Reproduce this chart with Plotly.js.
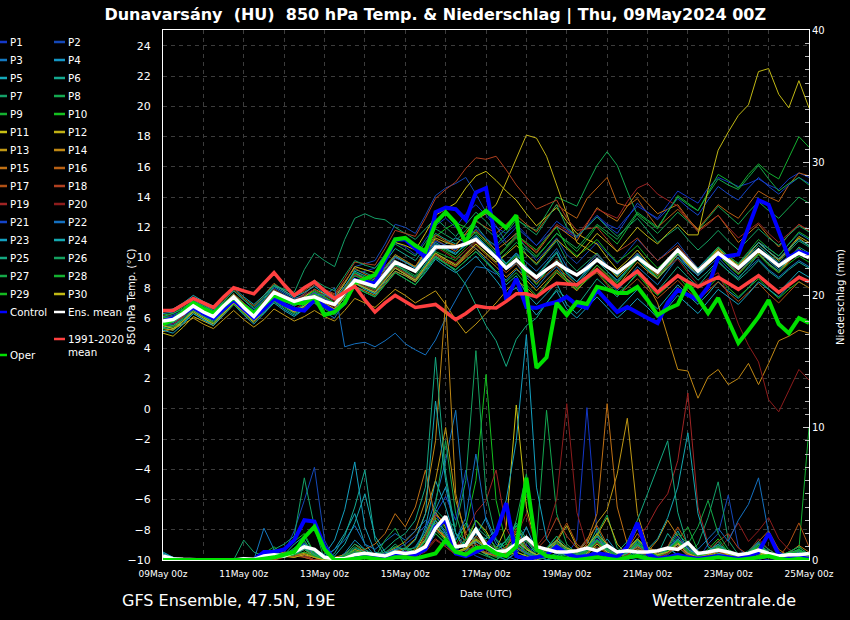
<!DOCTYPE html>
<html><head><meta charset="utf-8">
<script src="https://cdn.plot.ly/plotly-3.0.1.min.js"></script>
<style>html,body{margin:0;padding:0;background:#000;}#chart{width:850px;height:620px;}</style>
</head><body><div id="chart"></div>
<script>
// ---- tick / category labels ----
const memberNames = ['P1','P2','P3','P4','P5','P6','P7','P8','P9','P10','P11','P12','P13','P14','P15','P16','P17','P18','P19','P20','P21','P22','P23','P24','P25','P26','P27','P28','P29','P30'];
const memberColors = ['#1438c8','#1448b8','#1478c0','#1496c4','#14a8b8','#14a890','#14a068','#14a850','#14b030','#14c020','#c8c014','#c0b014','#c09814','#c08814','#c07014','#b86014','#b05014','#b04020','#a02424','#8c1c1c','#1444c8','#1470c0','#14a0c0','#14a8b0','#14a880','#14a060','#14a848','#14b030','#14b820','#c0b814'];

// ---- 850 hPa temperature (°C), 6-hourly from 09May 00z ----
const t01=[5.5,5.6,6.0,6.6,6.2,5.8,6.6,7.3,6.6,6.0,6.5,7.1,6.8,6.5,6.9,7.6,7.3,7.0,7.8,8.8,9.1,9.3,10.2,11.0,10.7,10.2,11.2,12.1,12.6,12.0,12.9,13.5,12.8,12.0,11.6,12.2,11.5,10.8,11.4,12.0,11.7,11.3,12.1,12.8,12.2,11.9,12.7,13.4,13.0,12.6,13.5,14.4,14.0,13.6,14.6,15.3,15.0,14.7,14.9,15.2,14.8,14.5,15.2,15.6,15.3];
const t02=[6.0,6.2,6.5,7.0,6.7,6.3,6.9,7.6,7.0,6.5,7.2,8.0,7.6,7.2,7.6,8.2,7.8,7.4,8.3,9.4,9.6,9.8,10.9,12.2,12.0,11.6,12.8,14.1,14.6,14.9,15.3,14.2,13.0,12.1,11.0,11.6,10.6,9.8,10.5,11.3,10.2,9.6,10.3,11.0,10.3,9.6,10.4,11.2,10.5,9.8,10.4,11.0,10.1,9.3,9.9,10.6,10.0,9.4,10.1,10.8,10.2,9.6,10.1,10.5,10.1];
const t03=[5.9,5.8,6.2,6.9,6.5,6.0,6.7,7.5,6.8,6.2,6.8,7.5,7.1,6.8,7.2,7.0,6.4,6.0,7.1,8.3,8.0,7.6,8.7,9.8,9.5,9.0,9.9,10.9,10.6,10.3,10.8,11.4,10.8,10.1,9.2,9.6,8.7,8.0,8.8,9.4,8.6,8.1,8.7,9.3,8.5,7.8,8.6,9.4,8.8,8.2,9.1,10.0,9.4,8.8,9.6,10.3,9.9,9.5,10.2,11.0,10.6,10.1,10.9,11.6,11.2];
const t04=[6.3,6.4,6.8,7.3,6.9,6.5,7.1,7.8,7.2,6.6,7.3,8.1,7.7,7.3,7.5,7.9,7.5,7.2,8.1,9.0,8.6,8.2,8.9,9.6,9.1,8.6,9.6,10.5,10.9,11.3,11.0,10.6,9.8,9.1,8.5,9.2,8.8,8.4,9.1,9.8,9.0,8.4,9.1,9.8,9.1,8.5,9.2,9.9,9.2,8.6,9.4,10.2,9.5,8.9,9.6,10.3,9.6,9.0,9.7,10.4,9.8,9.2,9.8,10.4,10.0];
const t05=[5.4,5.2,5.7,6.3,5.9,5.6,6.3,7.0,6.5,5.9,6.3,7.0,6.5,6.1,6.6,7.2,6.8,6.5,7.4,8.3,7.9,7.6,8.4,9.1,8.8,8.4,9.2,10.0,9.6,9.2,9.8,10.4,9.7,9.0,8.2,8.8,7.6,6.9,7.6,8.3,6.9,6.3,7.0,7.8,7.1,6.5,7.2,7.9,7.2,6.6,7.4,8.2,7.5,6.9,7.6,8.4,7.8,7.3,8.0,8.8,8.2,7.7,8.4,9.1,8.7];
const t06=[6.1,6.0,6.6,7.2,6.8,6.4,7.0,7.6,6.9,6.3,7.0,7.8,7.4,7.0,7.3,7.7,7.2,6.8,7.9,9.2,9.0,8.7,9.7,10.6,10.2,9.8,10.7,11.6,11.2,10.9,11.5,12.1,11.3,10.4,9.6,10.3,9.4,8.7,9.5,10.3,8.9,8.2,9.0,9.8,9.1,8.4,9.2,10.0,9.3,8.6,9.3,10.0,9.2,8.5,9.1,9.8,9.1,8.5,9.1,9.8,9.1,8.6,9.2,9.7,9.3];
const t07=[5.7,5.8,6.3,6.9,6.6,6.2,6.8,7.5,6.9,6.4,7.2,8.1,7.9,7.7,9.2,10.3,9.8,9.4,11.2,12.6,12.9,12.6,12.5,12.0,11.6,11.2,11.9,12.6,12.0,11.4,12.2,13.0,12.4,11.6,10.8,11.4,10.2,9.5,10.3,11.1,9.8,9.1,9.7,10.3,9.5,8.8,9.5,10.2,9.5,8.9,9.6,10.3,9.6,9.0,9.8,10.6,10.0,9.4,10.1,10.8,10.2,9.7,10.4,11.1,10.7];
const t08=[5.9,6.1,6.4,6.9,6.5,6.2,6.7,7.3,6.7,6.2,6.9,7.6,7.2,6.9,7.1,7.5,7.1,6.8,7.6,8.5,8.2,7.9,8.7,9.5,9.2,8.8,9.8,10.8,10.5,10.2,11.0,11.7,11.2,10.8,11.6,12.5,12.1,11.8,12.9,14.0,13.7,13.4,14.8,16.1,17.0,16.1,14.4,12.8,12.2,11.6,12.3,13.0,12.4,11.8,12.6,13.4,12.8,12.2,13.0,13.7,13.1,12.6,13.3,14.0,13.6];
const t09=[5.6,5.5,6.0,6.6,6.3,5.9,6.5,7.1,6.4,5.8,6.5,7.3,6.9,6.5,6.9,7.3,6.9,6.6,7.5,8.4,8.1,7.8,8.6,9.4,9.0,8.6,9.5,10.4,10.1,9.8,10.5,11.1,10.5,9.9,10.6,11.3,10.7,10.1,10.8,11.6,11.0,10.4,11.2,12.1,11.5,10.9,11.9,12.9,12.4,11.9,13.0,14.1,13.6,13.1,14.3,15.5,15.1,14.6,15.5,16.2,15.6,15.2,16.6,18.0,17.3];
const t10=[6.2,6.3,6.7,7.1,6.7,6.4,7.0,7.6,7.0,6.4,7.1,7.9,7.5,7.1,7.4,7.8,7.4,7.0,8.0,9.0,8.7,8.4,9.3,10.2,9.8,9.4,10.4,11.4,11.9,12.3,12.0,11.6,11.0,10.3,9.5,10.1,9.0,8.2,9.1,9.9,8.5,7.9,8.5,9.1,8.3,7.6,8.2,8.9,8.1,7.5,8.1,8.8,8.0,7.4,8.0,8.7,8.0,7.4,8.0,8.6,7.9,7.3,7.9,8.4,8.0];
const t11=[5.3,5.2,5.8,6.5,6.1,5.7,6.4,7.2,6.6,6.0,6.8,7.6,7.3,7.0,7.4,7.9,7.6,7.3,8.3,9.4,9.2,9.0,10.0,11.0,10.8,10.5,11.6,12.8,13.2,13.6,14.6,15.4,15.7,15.1,14.4,13.8,12.9,12.1,12.7,13.3,12.4,11.6,11.2,10.9,10.0,9.2,9.8,10.5,9.7,9.0,9.6,10.3,9.5,8.8,9.5,10.2,9.5,8.9,9.6,10.3,9.6,9.0,9.8,10.6,10.1];
const t12=[5.0,4.8,5.4,6.1,5.8,5.5,6.2,6.9,6.3,5.7,6.4,7.2,6.8,6.4,6.8,7.4,7.0,6.6,7.6,8.6,8.3,8.0,9.0,10.0,9.7,9.4,10.3,11.3,11.0,10.8,11.6,12.5,12.9,13.5,15.0,16.6,18.1,17.9,16.7,14.8,12.9,11.0,10.6,10.2,9.4,8.7,9.3,10.0,9.4,8.8,9.5,10.2,9.6,9.0,9.8,10.5,10.0,9.5,10.2,11.0,10.4,9.9,10.6,11.4,11.0];
const t13=[5.1,5.3,5.6,6.0,5.6,5.3,5.9,6.5,5.9,5.4,5.9,6.6,6.2,5.8,6.1,6.5,6.1,5.8,6.5,7.3,7.0,6.7,7.3,7.9,7.5,7.0,7.4,7.8,6.9,5.9,5.0,5.6,6.3,7.0,7.8,8.5,8.0,7.4,8.2,9.0,8.4,7.8,8.6,9.3,8.7,8.1,8.9,9.7,9.1,8.6,9.4,10.2,9.6,9.0,9.8,10.6,10.0,9.4,10.2,11.0,10.4,9.8,10.5,11.3,10.8];
const t14=[5.5,5.4,5.9,6.5,6.1,5.7,6.3,7.0,6.4,5.8,6.4,7.2,6.8,6.4,6.7,7.1,6.7,6.3,7.2,8.1,7.8,7.5,8.3,9.1,8.8,8.4,9.3,10.2,9.8,9.4,10.0,10.6,10.0,9.4,8.7,9.3,8.5,7.8,8.5,9.2,8.6,8.0,8.8,9.5,8.8,8.2,8.7,9.1,8.2,7.0,4.8,2.6,2.5,0.7,2.1,2.6,1.6,2.0,3.0,1.6,3.0,4.5,4.8,5.2,5.0];
const t15=[5.8,5.7,6.1,6.8,6.4,6.1,6.8,7.5,6.9,6.3,7.0,7.7,7.3,6.9,7.2,7.7,7.3,6.9,7.9,8.9,8.6,8.3,9.2,10.1,9.7,9.3,10.2,11.2,10.8,10.4,11.1,11.8,11.1,10.5,11.0,11.6,10.9,10.3,11.2,12.1,11.6,11.1,12.2,13.3,12.8,12.4,13.4,14.3,13.6,12.9,13.2,13.5,12.6,11.8,12.3,12.8,11.9,11.0,11.6,12.2,11.4,10.7,11.5,12.2,11.7];
const t16=[6.4,6.6,6.9,7.3,6.9,6.6,7.2,7.9,7.3,6.8,7.5,8.3,7.8,7.4,7.8,8.3,7.9,7.5,8.4,9.3,8.9,8.6,9.4,10.2,9.8,9.4,10.5,11.5,11.1,10.8,11.6,12.4,12.0,11.6,12.2,12.8,12.2,11.7,12.6,13.5,13.0,12.6,13.9,14.6,15.3,13.6,13.4,13.9,12.9,12.0,12.6,13.2,12.5,11.9,12.7,13.5,13.0,12.6,13.5,14.4,14.0,13.7,14.8,15.6,15.4];
const t17=[6.0,5.9,6.3,6.9,6.5,6.2,6.9,7.6,7.0,6.4,7.0,7.8,7.4,7.0,7.3,7.6,7.2,6.8,7.6,8.4,8.0,7.7,8.5,9.3,8.9,8.5,9.3,10.1,9.7,9.4,10.1,10.8,10.2,9.6,9.0,9.6,8.9,8.3,8.9,9.5,8.8,8.2,8.6,9.0,8.2,7.5,8.0,8.6,7.9,7.3,7.9,8.5,7.8,7.2,7.8,8.4,7.7,7.1,7.7,8.3,7.6,7.0,7.7,8.4,8.0];
const t18=[5.7,5.9,6.3,6.8,6.4,6.0,6.6,7.3,6.7,6.2,6.9,7.7,7.4,7.1,7.6,8.2,7.9,7.6,8.6,9.7,9.6,9.5,10.6,11.8,11.6,11.4,12.6,13.9,14.5,15.0,15.9,16.6,16.5,16.7,15.8,14.8,14.0,13.2,13.5,13.8,12.6,11.8,11.9,12.0,11.2,10.4,10.8,11.3,10.5,9.8,10.3,10.8,10.0,9.3,9.8,10.4,9.7,9.0,9.6,10.2,9.6,9.0,9.7,10.4,10.0];
const t19=[5.8,5.6,6.1,6.7,6.3,5.9,6.6,7.4,6.8,6.2,6.8,7.5,7.0,6.6,7.0,7.5,7.1,6.7,7.6,8.5,8.1,7.8,8.6,9.4,9.0,8.6,9.4,10.2,9.9,9.6,10.3,11.0,10.5,10.0,10.7,11.4,10.9,10.4,11.3,12.2,11.8,11.4,12.3,13.2,12.9,12.6,13.7,14.6,14.9,14.2,13.8,13.4,12.5,11.7,12.2,12.8,12.0,11.3,11.8,12.3,11.6,11.0,11.6,12.2,11.8];
const t20=[6.2,6.1,6.5,7.0,6.6,6.3,6.9,7.5,6.9,6.4,7.1,7.9,7.5,7.2,7.5,7.9,7.5,7.1,8.0,8.9,8.5,8.2,9.0,9.8,9.4,9.0,9.8,10.7,10.3,9.9,10.5,11.1,10.5,9.9,9.3,9.8,9.1,8.5,9.2,9.9,9.3,8.8,9.5,10.2,9.5,8.9,9.6,10.3,9.6,8.9,9.4,9.9,9.0,8.2,8.6,9.0,7.5,5.6,4.2,3.1,0.6,-0.2,1.2,2.6,1.9];
const t21=[5.6,5.7,6.2,6.8,6.3,5.9,6.6,7.3,6.6,6.1,6.8,7.6,7.2,6.8,7.2,7.7,7.3,6.9,7.8,8.8,8.5,8.2,9.1,10.0,9.7,9.3,10.2,11.1,10.8,10.5,11.2,11.9,11.3,10.7,11.3,12.0,11.4,10.8,11.6,12.4,11.9,11.4,12.0,12.7,12.1,11.6,12.6,13.6,13.0,12.5,13.2,13.9,13.3,12.8,13.8,14.7,14.2,13.8,14.6,15.3,14.7,14.2,14.8,15.3,14.9];
const t22=[5.9,5.7,6.2,6.7,6.3,6.0,6.5,7.1,6.5,5.9,6.5,7.2,6.8,6.3,6.8,7.6,7.5,8.0,4.1,4.3,4.4,4.1,4.5,5.0,4.3,3.9,3.56,4.55,6.0,7.2,8.4,9.4,9.3,8.9,9.6,10.3,9.7,9.1,9.8,10.6,9.4,8.8,9.5,10.2,9.5,8.9,9.6,10.3,9.6,9.0,9.6,10.2,9.4,8.8,9.4,10.0,9.3,8.7,9.3,9.9,9.2,8.7,9.3,9.8,9.4];
const t23=[5.2,5.0,5.6,6.3,5.9,5.5,6.2,6.9,6.2,5.6,6.3,7.1,6.6,6.2,6.6,7.1,6.7,6.3,7.2,8.1,7.7,7.4,8.2,9.0,8.6,8.2,9.0,9.9,9.4,9.0,9.5,10.1,9.3,8.5,7.6,8.0,7.0,6.2,7.0,7.8,6.6,6.0,6.7,7.4,6.7,6.0,6.6,7.3,6.7,6.0,6.7,7.5,6.9,6.3,7.1,7.9,7.4,6.9,7.6,8.4,7.9,7.4,8.1,8.8,8.4];
const t24=[6.5,6.6,7.0,7.5,7.1,6.8,7.4,8.0,7.4,6.9,7.5,8.2,7.8,7.4,7.7,8.1,7.6,7.2,8.1,9.1,8.8,8.5,9.3,10.1,9.7,9.3,10.1,11.0,10.6,10.2,10.9,11.5,10.8,10.2,9.6,10.2,9.4,8.8,9.6,10.4,9.0,8.4,9.2,10.0,9.4,8.8,9.5,10.2,9.6,9.1,9.8,10.5,9.9,9.3,10.0,10.7,10.1,9.6,10.3,11.0,10.4,9.9,10.6,11.2,10.8];
const t25=[5.4,5.5,5.9,6.5,6.1,5.8,6.4,7.1,6.5,6.0,6.6,7.3,6.9,6.5,6.8,7.3,6.9,6.5,7.4,8.3,8.0,7.7,8.5,9.3,8.9,8.5,9.3,10.1,9.6,9.1,8.2,6.8,5.5,4.5,2.8,4.6,5.5,6.0,7.0,7.9,7.3,6.8,7.7,8.6,8.0,7.4,8.2,9.0,8.4,7.8,8.6,9.4,8.7,8.1,8.9,9.7,9.1,8.6,9.4,10.2,9.6,9.1,9.9,10.7,10.3];
const t26=[6.1,6.3,6.6,7.1,6.8,6.5,7.1,7.8,7.2,6.7,7.4,8.2,7.9,7.6,8.0,8.5,8.1,7.8,8.8,9.8,9.5,9.3,10.1,10.9,10.5,10.1,11.0,11.9,11.5,11.1,11.8,12.5,11.9,11.3,11.9,12.6,12.0,11.5,12.5,13.5,12.0,11.4,12.0,12.7,12.0,11.4,12.0,12.6,11.8,11.0,11.5,12.0,11.2,10.5,11.1,11.8,11.1,10.5,11.2,11.9,11.3,10.8,11.5,12.1,11.7];
const t27=[5.8,5.8,6.2,6.8,6.4,6.0,6.7,7.4,6.8,6.2,6.9,7.6,7.2,6.8,7.1,7.6,7.2,6.8,7.7,8.6,8.2,7.9,8.7,9.5,9.1,8.7,9.5,10.3,9.9,9.5,10.2,10.9,10.3,9.7,10.3,11.0,10.5,10.0,10.8,11.6,11.1,10.6,11.4,12.2,11.7,11.2,12.1,13.0,12.5,12.0,13.0,14.0,13.5,13.1,14.2,15.2,14.8,14.5,15.3,16.1,15.2,14.4,14.9,15.3,14.8];
const t28=[5.3,5.4,5.8,6.4,6.0,5.7,6.3,6.9,6.3,5.8,6.4,7.1,6.7,6.3,6.6,7.0,6.6,6.2,7.1,8.0,7.7,7.4,8.2,9.0,8.6,8.2,9.1,10.0,9.6,9.2,9.8,10.4,9.7,9.1,8.4,9.0,8.2,7.5,8.3,9.1,8.5,7.9,8.7,9.5,8.9,8.3,9.1,9.9,9.3,8.7,9.5,10.3,9.7,9.1,9.9,10.7,10.1,9.6,10.4,11.2,10.6,10.1,10.9,11.7,11.3];
const t29=[6.0,6.1,6.5,7.0,6.6,6.3,6.9,7.5,6.9,6.3,7.0,7.7,7.3,6.9,7.3,7.8,7.4,7.0,7.9,8.8,8.5,8.2,9.0,9.8,9.4,9.0,9.9,10.8,10.4,10.0,10.7,11.3,10.6,10.0,10.7,11.5,11.0,10.5,11.3,12.0,10.7,10.1,10.6,11.2,10.4,9.7,10.2,10.8,10.0,9.3,9.9,10.5,9.7,9.0,9.6,10.2,9.5,8.9,9.6,10.2,9.5,9.0,9.6,10.1,9.7];
const t30=[5.5,5.3,5.8,6.4,6.0,5.6,6.3,7.0,6.4,5.8,6.5,7.2,6.8,6.4,6.8,7.3,6.9,6.5,7.4,8.3,8.0,7.7,8.5,9.3,8.9,8.5,9.4,10.3,9.9,9.5,10.2,10.9,10.3,9.7,10.2,10.8,10.2,9.6,10.4,11.2,10.6,10.0,10.8,11.6,11.0,10.4,11.2,12.0,11.4,10.9,11.6,12.2,11.5,11.5,14.5,17.1,18.3,19.4,20.1,22.3,22.5,20.8,19.9,21.7,19.9];
const ctrlT=[5.8,6.0,6.3,6.7,6.3,6.0,6.6,7.2,6.6,6.0,6.6,7.3,6.9,6.6,6.5,7.2,6.8,6.4,7.0,8.5,8.4,8.3,9.8,11.2,11.2,10.6,10.0,13.0,13.3,13.2,12.5,14.3,14.6,11.0,7.2,8.6,6.73,6.67,6.9,7.06,7.4,6.87,6.67,7.86,7.1,6.4,6.73,6.33,6.0,5.67,7.0,7.86,7.5,7.2,8.06,10.0,10.1,10.2,12.0,13.8,13.5,11.8,10.0,10.4,10.2];
const operT=[5.6,5.87,6.4,7.0,6.6,6.33,6.8,7.33,6.8,6.33,6.9,7.5,7.2,7.0,7.0,7.4,6.2,6.4,7.0,8.3,8.6,8.85,10.0,11.2,11.3,10.8,10.4,12.3,13.0,12.3,11.0,12.6,13.1,12.5,11.96,12.8,7.7,2.7,3.4,7.0,6.2,7.06,6.93,8.06,7.9,7.66,7.66,8.06,7.2,6.2,6.6,6.9,8.3,7.3,6.33,7.33,5.8,4.35,5.2,6.07,7.2,5.6,5.0,6.0,5.67];
const meanT=[5.8,5.9,6.3,6.8,6.4,6.1,6.8,7.4,6.7,6.1,6.9,7.7,7.4,7.1,7.3,7.4,7.1,6.9,7.7,8.5,8.3,8.1,8.9,9.7,9.4,9.1,9.9,10.7,10.7,10.7,10.9,11.2,10.6,10.0,9.3,9.85,9.2,8.7,9.2,9.65,9.2,8.85,9.3,9.85,9.4,9.0,9.5,10.0,9.5,9.05,9.8,10.5,9.8,9.1,9.7,10.3,9.8,9.3,9.9,10.5,10.0,9.45,9.9,10.3,10.0];
const climT=[6.5,6.5,6.9,7.3,7.0,6.7,7.4,8.0,7.8,7.6,8.3,9.0,8.2,7.5,8.0,8.4,7.8,7.3,7.7,8.1,7.2,6.4,7.0,7.5,7.1,6.7,6.8,6.9,6.4,5.9,6.3,6.8,6.7,6.67,7.1,7.6,7.6,7.4,7.9,8.3,8.25,8.2,8.7,9.2,8.6,8.06,8.6,9.1,8.4,7.7,8.25,8.8,8.4,8.06,8.4,8.7,8.3,7.9,8.35,8.8,8.25,7.7,8.2,8.7,8.4];

// ---- 6-hourly precipitation (mm) ----
const p01=[0,0,0,0,0,0,0,0,0,0,0.3,0.5,0.2,0.8,1.2,0.6,0,0,0.2,0.5,0.3,0,0.4,0.8,0.5,0.2,1.0,3.5,2.0,0.6,1.5,2.2,1.0,0.4,0,0.5,1.2,0.3,0,0.6,0.4,1.5,11.5,2.0,0.5,0,0.3,0.8,0.2,0,0.5,1.4,0.6,0,0,0.3,0.5,0,0,0.2,0,0,0.4,0.2,0];
const p02=[0,0,0,0,0,0,0,0,0,0,0.4,0.8,0.5,2.2,4.5,7.0,1.5,0,0,0.3,0.2,0,0,0.5,0.3,0,0.8,2.0,1.2,0.4,0.8,0.3,0,0,0.6,1.8,0.5,0,0.2,0.4,0,0,0.3,0.8,0.2,0,0,0.5,0.3,0,0.8,1.5,0.4,0,1.2,2.0,4.9,1.0,0,0,0.3,0,0,0,0];
const p03=[0.3,0,0,0,0,0,0,0,0,0,2.4,0.8,0.2,0.5,1.0,0.4,0,0,0,0.2,0.6,0.3,0,0.4,0.6,1.0,2.2,4.5,7.5,11.3,3.0,1.2,0.5,0.8,0.3,0,0.5,1.0,0.3,0,0.2,0.6,1.5,0.4,0,0.3,0.8,0.2,0,0.4,1.0,0.3,0,0,0.5,1.2,0.4,0,0,0.3,0.6,0.2,0,0,0];
const p04=[0,0,0,0,0,0,0,0,0,0,0,0.2,0.4,0.6,0.3,0,0,0,0.5,1.5,0.8,0.2,0,0.3,0.2,0.5,1.6,3.8,5.5,2.0,0.6,1.8,3.2,1.5,0.4,0.9,2.5,0.7,0,0.3,0.8,0.3,0,0.5,1.6,0.6,0.2,0,0,0.3,0.9,0.4,0,0.2,0.6,0.3,0,0,0.5,1.3,0.4,0,0.2,0.5,0.3];
const p05=[0.5,0.2,0,0,0,0,0,0,0.2,0,0.3,0.6,0.4,1.2,1.8,0.5,0.2,0.8,2.0,3.5,1.2,0.3,0.2,0.5,0.4,0.6,2.5,6.0,4.0,1.5,2.8,1.0,0.4,0.6,1.5,2.6,1.0,0.3,0.8,1.8,0.6,0.2,0.5,1.4,0.6,0,0.4,1.0,0.5,0.2,1.0,2.2,0.8,0.3,0.5,0.9,0.3,0,0.4,0.8,0.3,0,0.2,0.6,0.2];
const p06=[0,0,0,0,0,0,0,0,0,0,0,0.4,0.2,0.9,1.5,0.3,0,0.5,1.8,4.0,6.8,1.5,0.3,0.2,0,0.5,1.4,3.0,2.2,0.8,0.4,1.2,0.8,0.3,0,0.6,1.5,0.4,0,0.2,0.5,0.2,0.8,2.4,1.0,0.3,0,0.5,0.9,0.4,2.0,1.0,0.3,0,0.6,1.4,0.5,0.2,0,0.4,0.8,0.3,0,0,0];
const p07=[0,0,0,0,0,0,0,0,1.5,0.6,0.3,0.8,1.2,1.8,6.2,2.5,0,0,0.3,0.6,0.3,0,0.5,1.2,0.6,0.3,0.8,2.0,1.2,0.5,0.4,0.9,0.4,0,0.5,1.3,0.6,0,0.2,0.5,0.3,0,0.6,1.5,0.9,0.3,0,0.4,0.6,0.2,0.8,1.6,0.5,1.2,3.2,5.9,1.5,0.4,0,0.3,0.6,0.2,0,0.3,0];
const p08=[0,0,0,0,0,0,0,0,0,0,0.2,0.5,0.3,0.4,0.8,0.2,0,0,0.4,1.0,0.6,0,0.3,0.6,0.3,0.2,1.2,4.2,9.0,3.5,1.0,0.6,0.3,0,0.8,3.0,6.5,1.4,11.3,3.5,1.2,0.5,0.8,2.0,3.4,0.9,0.3,0.6,0.2,0,0.4,1.0,0.4,0,0.3,0.8,0.4,0,0.3,0.9,0.3,0,0.5,0.8,0.4];
const p09=[0,0,0,0,0,0,0,0,0,0,0.5,1.0,0.4,0.2,0.6,0.3,0,0,0.2,0.7,0.4,0,0.3,0.5,0.2,0.3,1.0,2.6,1.4,0.4,0.6,1.2,0.5,0.2,0.3,0.9,0.4,0,0.5,1.3,0.6,0.2,0.4,1.2,0.5,0,0.3,0.9,0.4,0.2,0.6,1.5,2.5,0.7,0.2,0.4,0.2,0,0.2,0.6,0.3,0,0,0.8,10.0];
const p10=[0,0,0,0,0,0,0,0,0,0,0.3,0.6,0.8,1.4,2.0,0.5,0.2,0,0.3,0.8,0.5,0.2,0.4,1.0,0.8,0.5,1.5,3.2,2.4,1.2,2.5,6.0,14.0,4.5,1.2,0.6,0.3,0,0.4,0.9,0.4,0.2,0.3,0.6,0.2,0,0.5,1.5,0.6,0.3,0.7,1.4,0.5,0.2,0.8,1.6,0.6,0.2,0.5,1.0,0.4,0,0.3,0.5,0.2];
const p11=[0,0,0,0,0,0,0,0,0,0,0,0.2,0.4,0.3,0.5,0.2,0,0,0,0.3,0.5,0.2,0,0.4,0.3,0.6,2.0,3.6,2.5,0.8,1.2,3.0,2.2,0.8,2.5,11.7,4.0,1.0,0.4,0.8,0.5,0.2,0.4,1.2,0.6,0.3,0.9,2.4,1.0,0.4,0.6,1.3,0.5,0,0.4,0.7,0.3,0,0.4,0.9,0.4,0.2,0.6,0.3,0];
const p12=[0,0,0,0,0,0,0,0,0,0,0,0,0.3,0.5,0.2,0,0,0,0,0.2,0.4,0.3,0,0.2,0.4,0.8,1.5,2.8,1.6,0.5,0.8,1.5,0.9,0.4,0.3,0.6,0.3,0,0.4,1.4,2.6,1.0,0.5,1.8,3.2,1.2,0.4,0.8,0.5,0.2,0.6,1.0,0.4,0,0.3,0.6,0.2,0,0.3,0.5,0.2,0,0.2,0.4,0.2];
const p13=[0,0,0,0,0,0,0,0,0,0,0.2,0.4,0.3,0.6,0.9,0.4,0,0,0.2,0.8,0.5,0.2,0.3,0.6,0.9,1.6,3.5,6.0,10.0,4.5,2.0,1.2,0.8,0.6,1.0,2.0,0.8,0.3,0.6,1.1,0.6,0.4,1.2,2.8,3.8,6.5,10.7,3.5,1.0,0.6,0.8,1.2,0.5,0.3,0.6,0.9,0.3,0,0.4,0.8,0.3,0,0.3,0.6,0.2];
const p14=[0,0,0,0,0,0,0,0,0,0,0,0.3,0.6,0.5,0.8,0.3,0,0.2,0.4,1.2,0.6,0.3,0.5,0.9,1.4,2.2,4.5,9.0,19.6,5.0,1.6,0.8,0.5,0.3,0.6,1.6,0.9,0.3,0.4,0.8,0.5,0.3,0.8,1.8,0.7,0.2,0.5,1.0,0.6,1.5,3.0,1.8,0.8,0.4,0.6,0.5,0.4,0.2,0.3,0.6,0.4,0.2,0.3,0.5,0.2];
const p15=[0,0,0,0,0,0,0,0,0,0,0.2,0.5,0.3,0.2,0.6,0.3,0,0,0.3,0.6,0.8,1.2,2.0,3.5,2.5,4.0,6.8,3.0,1.5,0.6,0.8,1.4,0.9,0.5,0.4,0.9,0.5,0.2,0.6,1.4,0.8,0.5,1.4,3.5,11.8,4.0,1.2,0.6,0.4,0.2,0.6,1.2,0.5,0.2,0.4,0.8,0.4,0.2,0.5,1.2,0.6,0.3,0.5,1.1,0.6];
const p16=[0,0,0,0,0,0,0,0,0,0,0,0.2,0.4,0.6,0.4,0,0,0,0.2,0.5,0.3,0,0.2,0.5,0.3,0.5,1.2,2.4,1.6,0.6,0.9,1.8,1.0,0.4,0.5,1.5,0.8,0.3,0.6,1.2,0.9,0.6,1.6,2.6,1.2,0.5,0.8,2.0,1.0,0.5,0.6,1.0,0.4,0.2,0.4,0.7,0.3,0.2,0.6,1.4,2.2,0.8,0.3,0.4,0.2];
const p17=[0,0,0,0,0,0,0,0,0,0,0.3,0.6,0.3,0.5,1.0,0.4,0,0,0,0.3,0.2,0,0.3,0.8,0.6,0.5,1.8,3.4,2.8,1.0,1.5,2.4,1.4,0.6,0.9,2.2,1.0,0.3,0.5,1.5,2.8,1.2,0.6,1.0,0.5,0.2,0.6,1.6,0.8,0.4,1.0,2.5,1.2,0.4,0.6,1.0,0.5,0.2,0.4,0.9,0.4,0.2,1.2,2.8,1.0];
const p18=[0,0,0,0,0,0,0,0,0,0,0,0,0.2,0.3,0.2,0,0,0,0,0.2,0.3,0,0,0.3,0.2,0.3,0.8,1.6,1.0,0.4,0.5,0.9,0.6,0.3,0.9,2.4,1.5,0.8,1.6,3.2,1.8,0.9,0.6,1.3,0.7,0.3,0.5,1.1,0.5,0.2,0.5,1.0,0.4,0.2,0.6,1.4,2.0,0.9,0.4,0.8,0.3,0,0.3,0.6,0.2];
const p19=[0,0,0,0,0,0,0,0,0,0,0,0.3,0.5,0.4,0.3,0,0,0,0.3,0.6,0.4,0,0.2,0.4,0.3,0.4,1.0,2.2,1.8,1.0,2.0,3.6,4.5,6.8,2.4,1.0,0.6,0.3,0.4,0.9,0.5,0.3,0.6,1.4,0.8,0.4,0.8,1.6,2.6,4.0,5.0,7.5,12.6,4.0,1.2,0.6,0.3,0.2,0.6,1.6,0.8,0.3,0.2,0.4,0.2];
const p20=[0,0,0,0,0,0,0,0,0,0,0,0.2,0.3,0.2,0.4,0.2,0,0,0.2,0.4,0.3,0,0.2,0.3,0.2,0.3,0.6,1.5,1.0,0.4,0.6,1.2,0.8,0.4,0.6,1.8,3.5,1.0,2.0,4.6,11.8,3.6,1.0,0.6,0.3,0,0.4,0.9,0.5,0.2,0.5,1.2,0.6,0.2,0.4,0.8,1.6,2.8,1.4,2.2,3.2,1.6,0.8,0.5,0.3];
const p21=[0,0,0,0,0,0,0,0,0,0,0.2,0.4,0.3,0.8,1.3,0.5,0.2,0,0.3,0.6,0.4,0.2,0.5,0.8,1.2,1.8,2.6,3.5,4.8,3.0,6.8,2.5,1.2,0.6,0.4,1.0,0.5,0.2,0.4,0.9,0.6,0.3,0.8,1.6,0.7,0.3,0.6,1.2,0.5,0.3,0.8,1.8,0.9,0.4,0.6,1.2,0.5,0.2,0.6,1.3,0.6,0.2,0.4,0.8,0.3];
const p22=[0.2,0,0,0,0,0,0,0,0,0,0,0.3,0.5,0.4,0.9,0.6,0.3,0.8,1.5,2.6,1.2,0.8,1.4,2.0,1.5,2.2,3.0,2.4,2.0,1.5,3.2,8.0,3.0,1.2,0.6,1.0,0.5,0.2,0.5,1.0,0.6,0.4,0.9,1.8,0.8,0.3,0.6,1.4,0.7,0.3,0.6,1.2,0.5,0.8,1.6,2.4,1.4,3.0,4.2,6.2,2.0,0.6,0.3,0.4,0.2];
const p23=[0.6,0.2,0,0,0,0,0,0,0,0,0.2,0.5,0.4,0.6,1.2,0.8,0.4,1.5,3.8,7.4,2.5,0.6,0.4,0.8,0.9,0.6,1.4,3.0,2.0,0.8,1.2,2.0,1.6,2.2,4.5,9.0,17.0,5.5,1.6,0.6,0.4,0.2,0.6,1.5,0.8,0.3,0.6,1.2,0.6,0.3,0.8,1.6,0.8,0.3,0.5,1.0,0.5,0.2,0.5,1.2,0.5,0.2,0.4,0.7,0.3];
const p24=[0.4,0,0,0,0,0,0,0,0,0,0.3,0.4,0.2,0.5,0.9,0.4,0,0.3,1.2,2.8,5.0,1.8,0.6,0.4,0.8,1.5,3.5,12.0,6.0,2.0,1.0,1.4,0.9,0.5,0.7,1.6,0.8,0.3,0.5,1.0,0.6,0.3,0.7,1.5,0.7,0.3,0.5,1.1,0.8,1.6,3.2,5.5,9.6,3.5,1.0,0.5,0.3,0.2,0.5,1.0,0.5,0.2,0.3,0.6,0.2];
const p25=[0,0,0,0,0,0,0,0,0,0,0.2,0.5,0.3,0.4,0.8,0.4,0.2,0,0.3,0.9,0.6,0.3,0.8,1.5,2.0,3.0,5.5,15.3,6.5,2.0,1.5,2.5,1.8,1.0,1.4,2.8,1.6,0.6,0.8,1.5,0.9,0.5,0.8,1.8,1.0,0.6,1.4,3.0,5.0,7.0,9.0,3.6,1.0,0.4,0.7,1.2,0.6,0.3,0.6,1.2,0.6,0.3,0.5,0.8,0.3];
const p26=[0,0,0,0,0,0,0,0,0,0,0.3,0.6,0.4,0.5,1.1,0.6,0.2,0,0.4,1.2,0.8,0.4,0.6,1.0,0.8,0.9,2.0,3.8,3.0,2.5,6.0,15.8,5.0,1.6,0.8,1.2,0.6,0.3,0.7,1.4,0.8,0.4,0.8,1.8,1.0,0.4,0.8,1.6,0.9,0.4,0.8,1.5,0.6,0.3,0.6,1.1,0.6,0.3,0.7,1.4,0.8,0.3,0.6,1.0,0.4];
const p27=[0,0,0,0,0,0,0,0,0,0,0.2,0.4,0.3,0.6,1.0,0.3,0,0,0.2,0.6,0.4,0.2,1.5,2.4,1.0,0.6,1.4,2.8,1.8,0.8,1.2,2.2,1.5,0.8,1.2,2.6,1.4,0.6,0.9,1.8,1.0,0.5,0.9,2.0,1.0,0.4,0.8,1.5,0.8,0.4,0.9,2.0,1.2,2.5,4.5,2.0,0.8,0.4,0.6,1.2,0.6,0.3,0.6,1.0,0.4];
const p28=[0,0,0,0,0,0,0,0,0,0,0,0.3,0.2,0.4,0.6,0.3,0,0,0.3,0.7,0.5,0.2,0.4,0.7,0.5,0.4,1.0,2.2,1.5,0.8,1.5,3.0,2.0,0.9,0.6,1.2,0.6,0.3,0.5,1.0,0.7,0.3,0.6,1.4,0.7,0.3,0.6,1.2,0.6,0.3,0.7,1.4,0.7,0.3,0.5,0.9,0.5,0.2,0.5,1.0,0.5,0.2,0.4,0.7,0.3];
const p29=[0,0,0,0,0,0,0,0,0,0,0.3,0.5,0.4,0.9,1.4,0.5,0,0,0.2,0.5,0.3,0,0.3,0.6,0.4,0.3,0.9,2.0,1.3,0.6,0.9,1.6,1.0,0.5,0.8,1.8,0.9,0.4,0.6,1.2,0.7,0.3,0.7,1.5,0.8,0.3,0.6,1.3,0.7,0.3,0.6,1.4,0.7,0.3,0.5,1.0,0.5,0.2,0.5,1.1,0.5,0.2,0.4,0.8,0.3];
const p30=[0,0,0,0,0,0,0,0,0,0,0,0.2,0.3,0.2,0.4,0.2,0,0,0.2,0.5,0.3,0,0.3,0.6,0.4,0.5,1.2,2.5,1.6,0.6,0.9,1.6,1.0,0.5,0.6,1.4,0.8,0.4,0.8,1.5,0.9,0.6,1.0,2.0,1.2,0.5,0.8,1.6,0.8,0.4,0.6,1.2,0.5,0.2,0.4,0.8,0.4,0.2,0.3,0.6,0.3,0.1,0.2,0.5,0.2];
const ctrlP=[0.2,0,0,0,0,0,0,0,0,0,0.6,0.6,0.8,1.5,3.0,2.9,1.0,0,0,0.2,0.3,0.2,0.1,0.4,0.5,0.4,0.8,2.5,3.0,0.5,0.3,0.6,1.0,2.0,4.3,0.3,0.1,0.2,0.4,1.0,0.5,0.2,0.3,0.5,0.4,0.2,1.0,2.8,0.5,0.1,0.2,0.4,0.2,0.1,0.2,0.3,0.2,0.1,0.3,0.6,2.0,0.4,0.1,0.2,0.1];
const operP=[0,0,0,0,0,0,0,0,0,0,0.1,0.2,0.4,0.6,1.7,2.5,0.8,0,0,0.1,0.2,0.1,0,0.2,0.2,0.1,0.3,0.5,1.5,0.6,0.4,0.9,1.0,0.5,0.3,1.0,6.2,0.8,0.3,0.2,0.1,0,0.1,0.2,0.1,0,0.2,0.3,0.1,0,0.1,0.2,0.1,0,0.1,0.2,0.1,0,0.1,0.2,0.3,0.1,0,0.1,0];
const meanP=[0.3,0.1,0.05,0,0,0,0,0,0.1,0.05,0.3,0.4,0.3,0.6,1.0,0.8,0.2,0.1,0.1,0.4,0.5,0.4,0.3,0.6,0.5,0.6,1.0,2.4,3.3,1.0,1.1,2.3,1.1,0.6,0.7,1.2,1.7,1.0,0.8,0.6,0.6,0.7,0.9,0.7,1.1,0.6,0.7,0.6,0.6,0.7,0.9,0.8,1.3,0.5,0.6,0.75,0.6,0.4,0.5,0.75,0.5,0.3,0.4,0.4,0.5];

const tempMembers=[t01,t02,t03,t04,t05,t06,t07,t08,t09,t10,t11,t12,t13,t14,t15,t16,t17,t18,t19,t20,t21,t22,t23,t24,t25,t26,t27,t28,t29,t30];
const precMembers=[p01,p02,p03,p04,p05,p06,p07,p08,p09,p10,p11,p12,p13,p14,p15,p16,p17,p18,p19,p20,p21,p22,p23,p24,p25,p26,p27,p28,p29,p30];

// time axis: 6-hourly steps from 09 May 2024 00 UTC
const times=[];
for(let i=0;i<65;i++){const d=new Date(Date.UTC(2024,4,9)+i*6*3600*1000);times.push(d.toISOString().slice(0,16).replace('T',' '));}

const traces=[];
precMembers.forEach((p,k)=>traces.push({x:times,y:p,yaxis:'y2',type:'scatter',mode:'lines',name:memberNames[k],line:{color:memberColors[k],width:1},hoverinfo:'skip',showlegend:false}));
tempMembers.forEach((t,k)=>traces.push({x:times,y:t,type:'scatter',mode:'lines',name:memberNames[k],line:{color:memberColors[k],width:1},hoverinfo:'skip',showlegend:false}));
traces.push({x:times,y:ctrlP,yaxis:'y2',type:'scatter',mode:'lines',name:'Control',line:{color:'#0000ff',width:4},showlegend:false});
traces.push({x:times,y:meanP,yaxis:'y2',type:'scatter',mode:'lines',name:'Ens. mean',line:{color:'#ffffff',width:3.5},showlegend:false});
traces.push({x:times,y:operP,yaxis:'y2',type:'scatter',mode:'lines',name:'Oper',line:{color:'#00e000',width:4},showlegend:false});
traces.push({x:times,y:ctrlT,type:'scatter',mode:'lines',name:'Control',line:{color:'#0000ff',width:4},showlegend:false});
traces.push({x:times,y:operT,type:'scatter',mode:'lines',name:'Oper',line:{color:'#00e000',width:4},showlegend:false});
traces.push({x:times,y:meanT,type:'scatter',mode:'lines',name:'Ens. mean',line:{color:'#ffffff',width:3.5},showlegend:false});
traces.push({x:times,y:climT,type:'scatter',mode:'lines',name:'1991-2020 mean',line:{color:'#ff4040',width:3.5},showlegend:false});

// ---- legend built from annotations + short line shapes (pixel -> paper helpers) ----
const L=163,W=646,T=30,H=530;
const px=x=>(x-L)/W, py=y=>(T+H-y)/H;
const annotations=[], shapes=[];
function legendItem(col,y,text,color,yTextAnchor){
  const lx0=col===0?0:54, lx1=col===0?7:65, tx=col===0?8:66;
  shapes.push({type:'line',xref:'paper',yref:'paper',x0:px(lx0),x1:px(lx1),y0:py(y),y1:py(y),line:{color:color,width:2.5}});
  annotations.push({xref:'paper',yref:'paper',x:px(tx),y:py(yTextAnchor===undefined?y:yTextAnchor),xanchor:'left',yanchor:yTextAnchor===undefined?'middle':'top',text:text,showarrow:false,align:'left',font:{family:'DejaVu Sans',size:10.3,color:'#ffffff'}});
}
memberNames.forEach((n,k)=>legendItem(k%2,42+Math.floor(k/2)*18,n,memberColors[k]));
legendItem(0,312,'Control','#0000ff');
legendItem(1,312,'Ens. mean','#ffffff');
legendItem(1,339,'1991-2020<br>mean','#ff4040',331);
legendItem(0,355,'Oper','#00e000');
// axis titles placed as rotated annotations
annotations.push({xref:'paper',yref:'paper',x:px(131),y:py(297),xanchor:'center',yanchor:'middle',textangle:-90,text:'850 hPa Temp. (°C)',showarrow:false,font:{family:'DejaVu Sans',size:10,color:'#ffffff'}});
annotations.push({xref:'paper',yref:'paper',x:px(840),y:py(297),xanchor:'center',yanchor:'middle',textangle:-90,text:'Niederschlag (mm)',showarrow:false,font:{family:'DejaVu Sans',size:10,color:'#ffffff'}});
annotations.push({xref:'paper',yref:'paper',x:px(486),y:py(593),xanchor:'center',yanchor:'middle',text:'Date (UTC)',showarrow:false,font:{family:'DejaVu Sans',size:9.5,color:'#ffffff'}});
annotations.push({xref:'paper',yref:'paper',x:px(120),y:py(600),xanchor:'left',yanchor:'middle',text:'GFS Ensemble, 47.5N, 19E',showarrow:false,font:{family:'DejaVu Sans',size:16,color:'#ffffff'}});
annotations.push({xref:'paper',yref:'paper',x:px(650),y:py(600),xanchor:'left',yanchor:'middle',text:'Wetterzentrale.de',showarrow:false,font:{family:'DejaVu Sans',size:16,color:'#ffffff'}});

const gridC='#3c3c3c';
const layout={
  width:850,height:620,
  paper_bgcolor:'#000',plot_bgcolor:'#000',
  margin:{l:163,r:41,t:30,b:60,pad:0},
  font:{family:'DejaVu Sans',color:'#ffffff',size:10},
  showlegend:false,
  title:{text:'Dunavarsány\u00a0 (HU)\u00a0 850 hPa Temp. &amp; Niederschlag | Thu, 09May2024 00Z',font:{family:'DejaVu Sans',size:16,weight:'bold',color:'#ffffff'},xref:'container',x:0.512,xanchor:'center',yref:'container',y:0.977,yanchor:'middle'},
  xaxis:{type:'date',range:[times[0],times[64]],tick0:'2024-05-09',dtick:2*86400000,tickformat:'%d%b %Hz',
    showgrid:true,gridcolor:gridC,griddash:'4px,4px',gridwidth:1,
    minor:{dtick:86400000,showgrid:true,gridcolor:gridC,griddash:'4px,4px',gridwidth:1},
    showline:true,linecolor:'#ffffff',linewidth:1,mirror:true,ticks:'outside',ticklen:5,tickcolor:'rgba(0,0,0,0)',zeroline:false,
    tickfont:{family:'DejaVu Sans',size:9,color:'#ffffff'}},
  yaxis:{range:[-10,25.05],tick0:0,dtick:2,showgrid:true,gridcolor:gridC,griddash:'4px,4px',gridwidth:1,
    showline:true,linecolor:'#ffffff',linewidth:1,mirror:true,ticks:'',zeroline:false,
    tickfont:{size:11,color:'#ffffff'},ticklabelstandoff:9},
  yaxis2:{overlaying:'y',side:'right',range:[0,40],tick0:0,dtick:10,showgrid:false,zeroline:false,
    showline:true,linecolor:'#ffffff',linewidth:1,ticks:'inside',ticklen:6,tickcolor:'#cccccc',
    minor:{dtick:1,ticks:'inside',ticklen:4,tickcolor:'#bbbbbb'},
    tickfont:{size:10,color:'#ffffff'}},
  annotations:annotations,
  shapes:shapes
};
Plotly.newPlot('chart',traces,layout,{displayModeBar:false,staticPlot:true});
</script>
</body></html>
